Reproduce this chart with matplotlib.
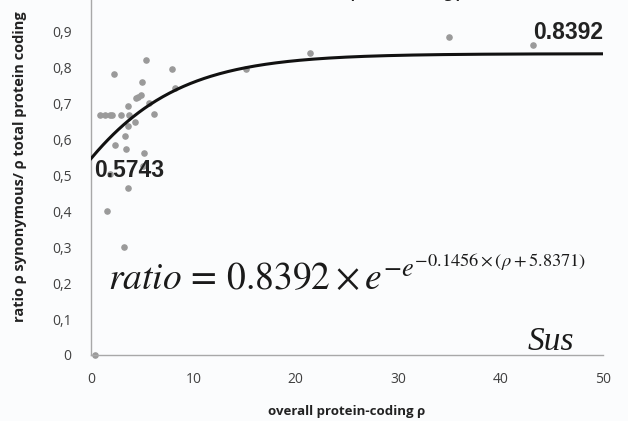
import numpy as np
import matplotlib.pyplot as plt

# observed points (overall protein-coding rho, ratio)
rho = [0.88, 1.37, 1.86, 2.08, 2.9, 3.7, 2.28, 5.37, 7.9, 4.95, 4.56, 4.85,
       4.43, 3.65, 5.7, 6.12, 8.2, 4.3, 3.58, 3.29, 2.34, 3.39, 5.2, 5.1,
       1.86, 3.65, 1.56, 3.22, 0.4, 15.1, 21.4, 35.0, 43.2]
ratio = [0.668, 0.668, 0.668, 0.668, 0.668, 0.668, 0.782, 0.822, 0.796, 0.761,
         0.719, 0.723, 0.715, 0.694, 0.701, 0.670, 0.745, 0.648, 0.638, 0.610,
         0.585, 0.573, 0.562, 0.526, 0.503, 0.466, 0.401, 0.300, 0.0, 0.798,
         0.840, 0.885, 0.864]

# Gompertz fit parameters
a, b, c = 0.8392, 0.1456, 5.8371
start_label = "0.5743"
end_label = "0.8392"

xticks = [0, 10, 20, 30, 40, 50]
yticks = [0, 0.1, 0.2, 0.3, 0.4, 0.5, 0.6, 0.7, 0.8, 0.9]
yticklabels = ["0", "0,1", "0,2", "0,3", "0,4", "0,5", "0,6", "0,7", "0,8", "0,9"]

plt.rcParams["mathtext.fontset"] = "stix"
bg = "#fbfcfd"

fig = plt.figure(figsize=(6.28, 4.21), dpi=100, facecolor=bg)
ax = fig.add_axes([0.145, 0.1568, 0.815, 0.8527], facecolor=bg)

ax.scatter(rho, ratio, s=14, color="#9a9a9a", zorder=2, clip_on=False)
xs = np.linspace(0, 50, 300)
ax.plot(xs, a * np.exp(-np.exp(-b * (xs + c))), color="#111111", lw=2.2, zorder=3)

ax.set_xlim(0, 50)
ax.set_ylim(0, 1.0)
ax.set_xticks(xticks)
ax.set_yticks(yticks)
ax.set_yticklabels(yticklabels)
for s in ["top", "right"]:
    ax.spines[s].set_visible(False)
for s in ["left", "bottom"]:
    ax.spines[s].set_color("#a8a8a8")
    ax.spines[s].set_linewidth(1.0)
ax.tick_params(length=0, labelsize=10, labelcolor="#404040")
for lbl in ax.get_xticklabels() + ax.get_yticklabels():
    lbl.set_fontfamily("Open Sans")
ax.tick_params(axis="x", pad=12)
ax.tick_params(axis="y", pad=14)

ax.set_xlabel("overall protein-coding ρ", fontsize=9.5, fontweight="bold",
              family="Open Sans", color="#222222", labelpad=13)
fig.text(0.032, 0.605, "ratio ρ synonymous/ ρ total protein coding", rotation=90,
         ha="center", va="center", fontsize=10.5, fontweight="bold",
         family="Open Sans", color="#222222")

ax.text(0.3, 0.515, start_label, fontsize=16.5, fontweight="bold",
        family="Liberation Sans", color="#222222", va="center", ha="left")
ax.text(43.2, 0.897, end_label, fontsize=16.5, fontweight="bold",
        family="Liberation Sans", color="#222222", va="center", ha="left")

ax.text(1.7, 0.18, r"$ratio\,=\,0.8392 \times e^{-e^{-0.1456 \times (\rho + 5.8371)}}$",
        fontsize=27, color="#1a1a1a", va="baseline", ha="left")
ax.text(42.6, 0.014, "Sus", fontsize=24, style="italic", family="Liberation Serif",
        color="#1a1a1a", va="baseline", ha="left")

# title sits above the cropped top edge, only its descenders show
fig.text(0.55, 1.0 + 2 / 421, "Sus scrofa overall protein-coding ρ", fontsize=10,
         fontweight="bold", family="Open Sans", color="#222222",
         ha="center", va="baseline")

fig.savefig("out.png", dpi=100, facecolor=bg)
